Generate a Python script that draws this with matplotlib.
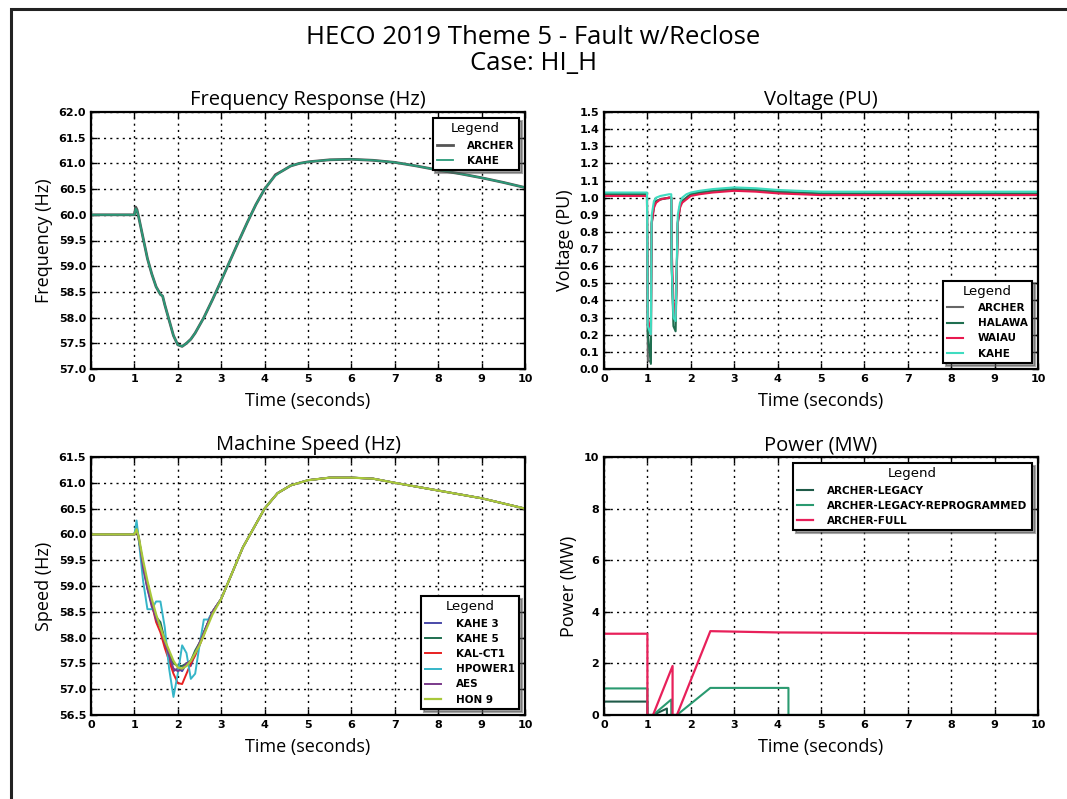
import matplotlib
matplotlib.use("Agg")
import matplotlib.pyplot as plt
from matplotlib.patches import Rectangle

# ---------------- data ----------------
t_freq = [0, 1.0, 1.03, 1.06, 1.1, 1.2, 1.3, 1.4, 1.5, 1.6, 1.65, 1.7, 1.8, 1.9, 2.0, 2.1,
          2.2, 2.3, 2.4, 2.5, 2.6, 2.8, 3.0, 3.2, 3.4, 3.6, 3.8, 4.0, 4.2, 4.25, 4.4, 4.6,
          4.8, 5.0, 5.5, 6.0, 6.5, 7.0, 7.5, 8.0, 8.5, 9.0, 9.5, 10.0]
freq_archer = [60.0, 60.0, 60.15, 60.1, 59.95, 59.55, 59.15, 58.85, 58.6, 58.45, 58.42, 58.25,
               57.95, 57.65, 57.47, 57.44, 57.5, 57.58, 57.7, 57.85, 58.0, 58.35, 58.72, 59.1,
               59.48, 59.85, 60.2, 60.5, 60.72, 60.78, 60.85, 60.95, 61.0, 61.03, 61.07, 61.08,
               61.06, 61.02, 60.95, 60.87, 60.8, 60.72, 60.63, 60.53]
freq_kahe = [60.0, 60.0, 60.12, 60.08, 59.95, 59.55, 59.15, 58.85, 58.6, 58.45, 58.42, 58.25,
             57.95, 57.65, 57.47, 57.44, 57.5, 57.58, 57.7, 57.85, 58.0, 58.35, 58.72, 59.1,
             59.48, 59.85, 60.2, 60.5, 60.72, 60.76, 60.85, 60.95, 61.0, 61.03, 61.07, 61.08,
             61.06, 61.02, 60.95, 60.87, 60.8, 60.72, 60.63, 60.53]

t_volt = [0, 0.99, 1.0, 1.01, 1.08, 1.09, 1.1, 1.15, 1.2, 1.3, 1.5, 1.55, 1.56, 1.6, 1.65,
          1.67, 1.7, 1.75, 1.8, 1.9, 2.0, 2.2, 2.5, 3.0, 3.5, 4.0, 4.5, 5.0, 6.0, 7.0, 8.0,
          9.0, 10.0]
volt_archer = [1.02, 1.02, 0.6, 0.05, 0.04, 0.6, 0.85, 0.95, 0.98, 0.99, 1.0, 1.0, 0.6, 0.3,
               0.28, 0.5, 0.85, 0.95, 0.98, 1.0, 1.02, 1.03, 1.04, 1.05, 1.045, 1.035, 1.025,
               1.02, 1.02, 1.02, 1.02, 1.02, 1.02]
volt_halawa = [1.02, 1.02, 0.6, 0.2, 0.03, 0.6, 0.86, 0.95, 0.98, 0.99, 1.0, 1.0, 0.6, 0.25,
               0.22, 0.5, 0.86, 0.95, 0.98, 1.0, 1.02, 1.03, 1.04, 1.05, 1.045, 1.035, 1.03,
               1.025, 1.025, 1.025, 1.025, 1.025, 1.025]
volt_waiau = [1.01, 1.01, 0.6, 0.3, 0.2, 0.6, 0.85, 0.94, 0.97, 0.99, 1.0, 1.0, 0.7, 0.4,
              0.3, 0.5, 0.85, 0.94, 0.97, 0.99, 1.01, 1.02, 1.03, 1.04, 1.035, 1.025, 1.02,
              1.015, 1.015, 1.015, 1.015, 1.015, 1.015]
volt_kahe = [1.03, 1.03, 0.6, 0.25, 0.2, 0.65, 0.9, 0.98, 1.0, 1.01, 1.02, 1.02, 0.6, 0.3,
             0.28, 0.55, 0.9, 0.97, 1.0, 1.02, 1.03, 1.04, 1.05, 1.06, 1.055, 1.045, 1.04,
             1.035, 1.035, 1.035, 1.035, 1.035, 1.035]

t_speed = [0, 1.0, 1.05, 1.1, 1.2, 1.3, 1.4, 1.5, 1.6, 1.7, 1.8, 1.9, 2.0, 2.1, 2.2, 2.3, 2.4,
           2.5, 2.6, 2.7, 2.8, 3.0, 3.2, 3.5, 4.0, 4.3, 4.6, 5.0, 5.5, 6.0, 6.5, 7.0, 8.0,
           9.0, 10.0]
speed_tail = [58.75, 59.15, 59.75, 60.5, 60.8, 60.95, 61.05, 61.1, 61.1, 61.08, 61.0, 60.85,
              60.7, 60.5]
speed_kahe3 = [60.0, 60.0, 60.15, 59.95, 59.4, 58.95, 58.6, 58.4, 58.25, 57.9, 57.6, 57.35,
               57.4, 57.35, 57.5, 57.45, 57.7, 57.85, 58.1, 58.3, 58.5] + speed_tail
speed_kahe5 = [60.0, 60.0, 60.1, 59.9, 59.45, 59.0, 58.7, 58.4, 58.3, 57.95, 57.7, 57.5,
               57.45, 57.45, 57.5, 57.55, 57.75, 57.9, 58.1, 58.3, 58.5] + speed_tail
speed_kalct1 = [60.0, 60.0, 60.1, 59.9, 59.4, 59.0, 58.65, 58.3, 58.1, 57.8, 57.55, 57.3,
                57.12, 57.1, 57.3, 57.5, 57.65, 57.85, 58.05, 58.3, 58.5] + speed_tail
speed_hpower1 = [60.0, 60.0, 60.27, 59.9, 59.1, 58.55, 58.55, 58.7, 58.7, 58.2, 57.4, 56.85,
                 57.3, 57.85, 57.7, 57.2, 57.3, 57.85, 58.35, 58.35, 58.5] + speed_tail
speed_aes = [60.0, 60.0, 60.05, 59.95, 59.35, 58.95, 58.65, 58.35, 58.2, 57.9, 57.65, 57.4,
             57.35, 57.4, 57.5, 57.55, 57.7, 57.9, 58.1, 58.3, 58.5] + speed_tail
speed_hon9 = [60.0, 60.0, 60.1, 59.95, 59.5, 59.1, 58.75, 58.45, 58.2, 57.95, 57.75, 57.55,
              57.42, 57.4, 57.45, 57.55, 57.7, 57.85, 58.05, 58.25, 58.45] + speed_tail

t_legacy = [0, 1.0, 1.0, 1.13, 1.45, 1.45, 10.0]
p_legacy = [0.52, 0.52, 0, 0, 0.25, 0, 0]
t_reprog = [0, 1.0, 1.0, 1.13, 1.55, 1.55, 1.68, 2.45, 4.25, 4.25, 10.0]
p_reprog = [1.03, 1.03, 0, 0, 0.6, 0, 0, 1.05, 1.05, 0, 0]
t_full = [0, 1.0, 1.0, 1.13, 1.58, 1.58, 1.68, 2.45, 4.0, 10.0]
p_full = [3.15, 3.15, 0, 0, 1.9, 0, 0, 3.25, 3.2, 3.15]

xticks = list(range(0, 11))

# ---------------- figure ----------------
plt.rcParams['font.family'] = ['DejaVu Sans']
fig = plt.figure(figsize=(10.67, 7.99), dpi=100)
fig.patch.set_facecolor('white')

# outer frame
fig.patches.append(Rectangle((11 / 1067, -0.05), 1.2, 1 - 9 / 799 + 0.05,
                             transform=fig.transFigure, fill=False, edgecolor='#222222',
                             linewidth=2.2, clip_on=False))

fig.text(0.5, 1 - 37 / 799, "HECO 2019 Theme 5 - Fault w/Reclose", ha='center', va='center',
         fontsize=18.5, family='Open Sans')
fig.text(0.5, 1 - 63 / 799, "Case: HI_H", ha='center', va='center', fontsize=18.5,
         family='Open Sans')

W, H = 1067, 799
def ax_at(l, t, r, b):
    return fig.add_axes([l / W, 1 - b / H, (r - l) / W, (b - t) / H])

ax1 = ax_at(91, 112, 525, 369)
ax2 = ax_at(604, 112, 1038, 369)
ax3 = ax_at(91, 457, 525, 715)
ax4 = ax_at(604, 457, 1038, 715)

def style(ax, title, ylabel, ylim, yticks, yfmt):
    ax.set_xlim(0, 10)
    ax.set_ylim(*ylim)
    ax.set_xticks(xticks)
    ax.set_yticks(yticks)
    ax.set_yticklabels([yfmt.format(v) for v in yticks])
    ax.tick_params(direction='in', top=True, right=True, length=4, width=1, labelsize=8)
    for lab in ax.get_xticklabels() + ax.get_yticklabels():
        lab.set_fontweight('bold')
    ax.grid(True, color='black', linestyle=(0, (1.5, 3)), linewidth=1)
    for s in ax.spines.values():
        s.set_linewidth(1.6)
    ax.set_title(title, fontsize=14.5, family='Open Sans', pad=5)
    ax.set_xlabel("Time (seconds)", fontsize=13, family='Open Sans', labelpad=6)
    ax.set_ylabel(ylabel, fontsize=13, family='Open Sans', labelpad=4)

def legend(ax, loc):
    lg = ax.legend(loc=loc, title="Legend", fontsize=7.5, title_fontsize=9.5, shadow=True,
                   fancybox=False, handlelength=1.5, handletextpad=1.4, borderaxespad=0.6,
                   labelspacing=0.5, borderpad=0.4, framealpha=1)
    lg.get_frame().set_edgecolor('black')
    lg.get_frame().set_linewidth(1.5)
    for tx in lg.get_texts():
        tx.set_fontweight('bold')
    return lg

# Frequency
ax1.plot(t_freq, freq_archer, color='#555555', lw=2.0, label='ARCHER')
ax1.plot(t_freq, freq_kahe, color='#2a9a78', lw=1.3, label='KAHE')
style(ax1, "Frequency Response (Hz)", "Frequency (Hz)", (57.0, 62.0),
      [57.0 + 0.5 * i for i in range(11)], "{:.1f}")
legend(ax1, 'upper right')

# Voltage
ax2.plot(t_volt, volt_archer, color='#666666', lw=1.5, label='ARCHER')
ax2.plot(t_volt, volt_halawa, color='#1f6f50', lw=1.5, label='HALAWA')
ax2.plot(t_volt, volt_waiau, color='#e8194f', lw=1.5, label='WAIAU')
ax2.plot(t_volt, volt_kahe, color='#3fdcc0', lw=1.5, label='KAHE')
style(ax2, "Voltage (PU)", "Voltage (PU)", (0.0, 1.5),
      [round(0.1 * i, 1) for i in range(16)], "{:.1f}")
legend(ax2, 'lower right')

# Machine speed
ax3.plot(t_speed, speed_kahe3, color='#4a4aa8', lw=1.4, label='KAHE 3')
ax3.plot(t_speed, speed_kahe5, color='#1f6f50', lw=1.4, label='KAHE 5')
ax3.plot(t_speed, speed_kalct1, color='#e82020', lw=1.4, label='KAL-CT1')
ax3.plot(t_speed, speed_hpower1, color='#35b5c8', lw=1.4, label='HPOWER1')
ax3.plot(t_speed, speed_aes, color='#7a3a8a', lw=1.4, label='AES')
ax3.plot(t_speed, speed_hon9, color='#a8c83a', lw=1.6, label='HON 9')
style(ax3, "Machine Speed (Hz)", "Speed (Hz)", (56.5, 61.5),
      [56.5 + 0.5 * i for i in range(11)], "{:.1f}")
legend(ax3, 'lower right')

# Power
ax4.plot(t_legacy, p_legacy, color='#1f5a48', lw=1.5, label='ARCHER-LEGACY')
ax4.plot(t_reprog, p_reprog, color='#2a9a70', lw=1.5, label='ARCHER-LEGACY-REPROGRAMMED')
ax4.plot(t_full, p_full, color='#e8205a', lw=1.6, label='ARCHER-FULL')
style(ax4, "Power (MW)", "Power (MW)", (0, 10), [0, 2, 4, 6, 8, 10], "{:d}")
legend(ax4, 'upper right')

fig.savefig("out.png", dpi=100, facecolor='white')
